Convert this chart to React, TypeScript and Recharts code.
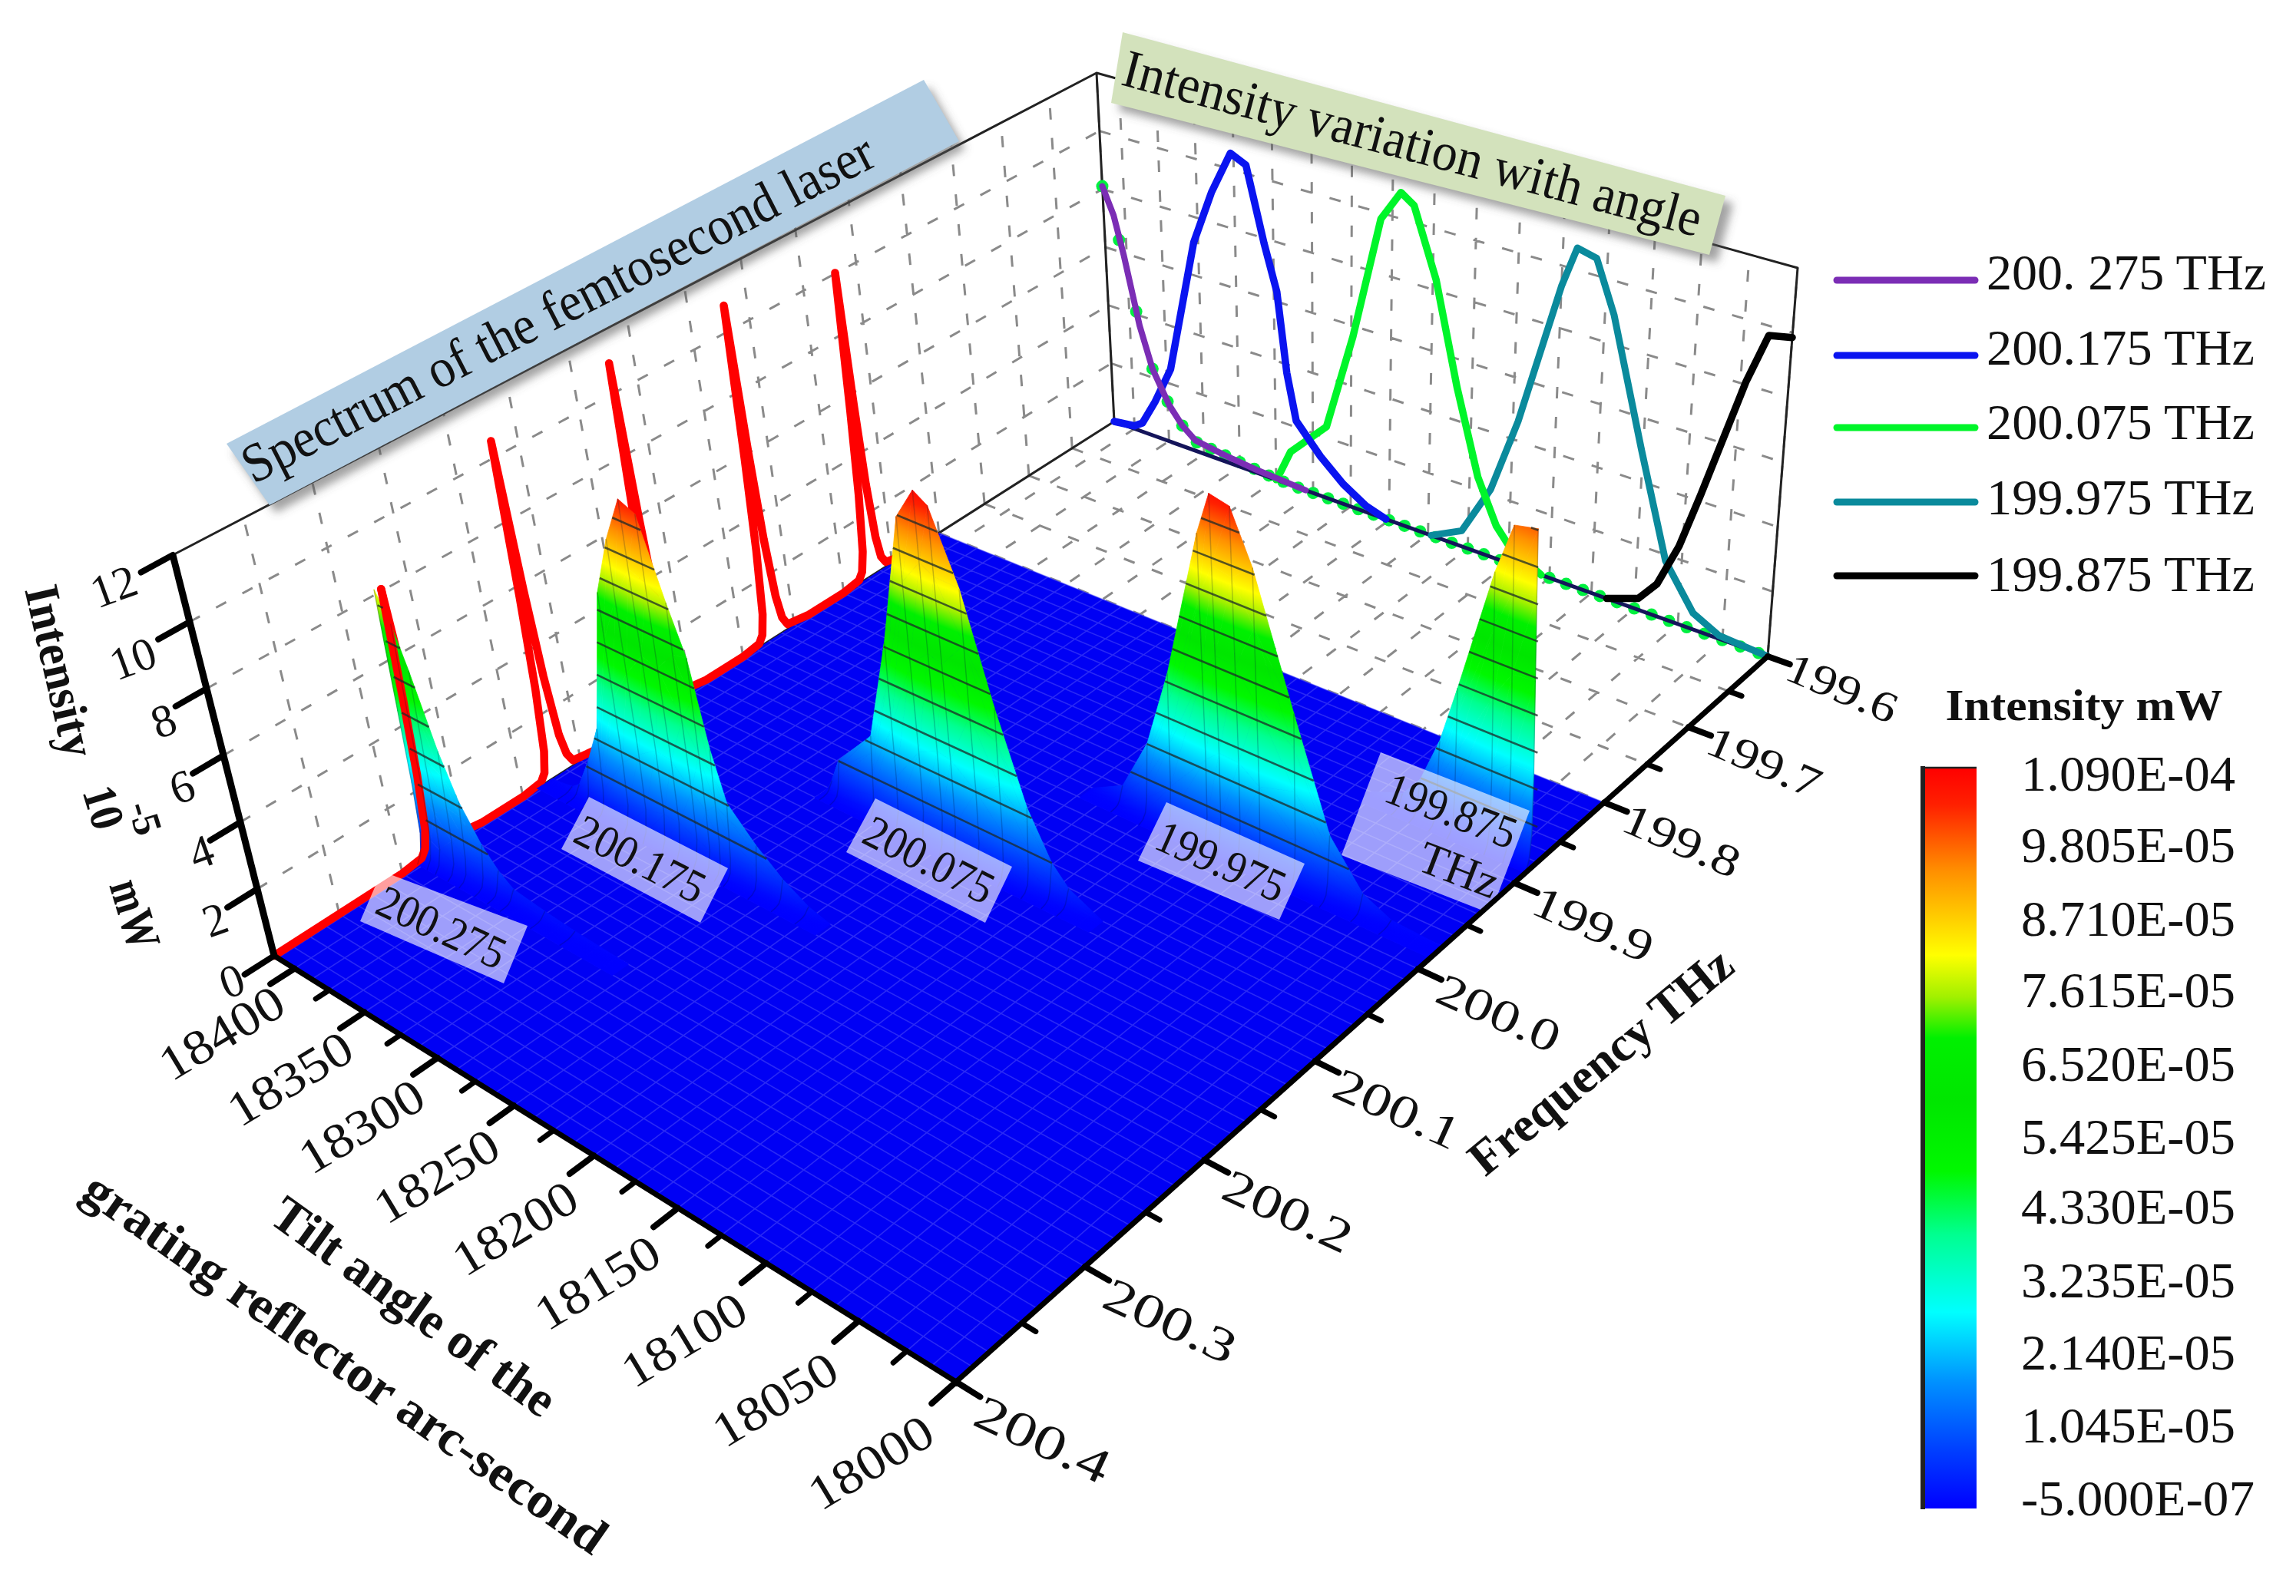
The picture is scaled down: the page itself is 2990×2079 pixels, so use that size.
import React from 'react';
import { ComposedChart, Line, Scatter, XAxis, YAxis, ReferenceArea } from 'recharts';

// ---------- values (intensity in 10^-5 mW) ----------
const ridgeFrequencies = [200.275, 200.175, 200.075, 199.975, 199.875];
const seriesNames = ['200. 275 THz', '200.175 THz', '200.075 THz', '199.975 THz', '199.875 THz'];
const seriesColors = ['#7b2db5', '#0a14f0', '#00f52a', '#0a8a9c', '#000000'];

const tiltPurple = [18415, 18408, 18402, 18393, 18385, 18374, 18365, 18356, 18335, 18315, 18280, 18000];
const zPurple = [8.1, 7.2, 5.9, 3.65, 2.3, 1.25, 0.7, 0.35, 0.2, 0.1, 0, 0];
const tiltBlue = [18415, 18400, 18394, 18384, 18372, 18353, 18340, 18327, 18317, 18306, 18298, 18292, 18286, 18270, 18255, 18240, 18227, 18000];
const zBlue = [0, 0.1, 0.3, 1.2, 2.5, 7.1, 9.0, 10.5, 10.25, 7.8, 6.3, 3.7, 2.2, 1.3, 0.65, 0.2, 0, 0];
const tiltGreen = [18415, 18300, 18297, 18290, 18266, 18249, 18232, 18220, 18212, 18198, 18184, 18170, 18158, 18149, 18130, 18000];
const zGreen = [0, 0, 0.3, 1.1, 2.35, 5.6, 9.75, 10.8, 10.5, 8.3, 5.05, 2.4, 1.05, 0.5, 0, 0];
const tiltTeal = [18415, 18198, 18179, 18162, 18147, 18125, 18117, 18106, 18095, 18076, 18059, 18042, 18027, 18000];
const zTeal = [0, 0, 0.5, 2.15, 4.6, 9.3, 10.65, 10.5, 8.9, 5.0, 1.8, 0.5, 0.1, 0];
const tiltBlack = [18415, 18091, 18073, 18063, 18052, 18042, 18022, 18012, 18000];
const zBlack = [0, 0, 0.35, 1.0, 2.4, 4.2, 8.1, 9.7, 9.85];

// the measured green markers on the back wall
const markerTilt = [18415, 18405, 18395, 18385, 18375, 18365, 18355, 18345, 18335, 18325, 18315, 18305, 18295, 18285, 18275, 18265, 18255, 18245, 18235, 18225, 18215, 18205, 18195, 18185, 18175, 18165, 18155, 18145, 18135, 18125, 18115, 18105, 18095, 18085, 18075, 18065, 18055, 18045, 18035, 18025, 18015, 18005];
const markerZ = [8.1, 6.4, 4.1, 2.3, 1.35, 0.7, 0.3, 0.25, 0.2, 0.15, 0.1, 0.05, 0.02, 0, 0, 0, 0, 0, 0, 0, 0, 0, 0, 0, 0, 0, 0, 0, 0, 0, 0, 0, 0, 0, 0, 0, 0, 0, 0, 0, 0, 0];

// spectrum at the first tilt angle (red trace)
const spectrumF = [200.4, 200.3, 200.284, 200.28, 200.277, 200.274, 200.272, 200.27,
  200.268, 200.266, 200.263, 200.26, 200.256, 200.235,
  200.2, 200.184, 200.18, 200.177, 200.174, 200.172, 200.17, 200.168, 200.166, 200.163, 200.16, 200.156, 200.135,
  200.1, 200.084, 200.08, 200.077, 200.074, 200.072, 200.07, 200.068, 200.066, 200.063, 200.06, 200.056, 200.035,
  200.0, 199.984, 199.98, 199.977, 199.974, 199.972, 199.97, 199.968, 199.966, 199.963, 199.96, 199.956, 199.935,
  199.9, 199.884, 199.88, 199.877, 199.874, 199.872, 199.87, 199.868, 199.866, 199.863, 199.86, 199.856, 199.84];
const spectrumZ = [0, 0.02, 0.1, 0.3, 0.8, 2.4, 4.6, 8.0,
  4.7, 2.6, 1.0, 0.4, 0.15, 0.03,
  0.02, 0.1, 0.3, 0.9, 2.8, 5.6, 10.4, 5.7, 3.0, 1.1, 0.45, 0.15, 0.03,
  0.02, 0.1, 0.3, 0.9, 2.9, 5.8, 10.8, 6.0, 3.1, 1.2, 0.45, 0.15, 0.03,
  0.02, 0.1, 0.3, 0.9, 2.9, 5.8, 10.7, 5.9, 3.1, 1.2, 0.45, 0.15, 0.03,
  0.02, 0.1, 0.3, 0.9, 2.7, 5.4, 9.9, 5.5, 2.9, 1.1, 0.4, 0.15, 0.02];
const FIRST_PEAK_INDEX = 7;

// cross-section of a ridge on its near side: frequency offset and share of the ridge height
const ridgeOffsets = [0, 0.0012, 0.0025, 0.004, 0.006, 0.009, 0.013];
const ridgeShare = [1, 0.8, 0.55, 0.28, 0.1, 0.03, 0];

const tiltTicks = [18400, 18350, 18300, 18250, 18200, 18150, 18100, 18050, 18000];
const tiltMinor = [18375, 18325, 18275, 18225, 18175, 18125, 18075, 18025];
const freqTicks = [200.4, 200.3, 200.2, 200.1, 200.0, 199.9, 199.8, 199.7, 199.6];
const freqMinor = [200.35, 200.25, 200.15, 200.05, 199.95, 199.85, 199.75, 199.65];
const zTicks = [0, 2, 4, 6, 8, 10, 12];
const contourLevels = [1.045, 2.14, 3.235, 4.33, 5.425, 6.52, 7.615, 8.71, 9.805];
const colorbarLabels = ['1.090E-04', '9.805E-05', '8.710E-05', '7.615E-05', '6.520E-05', '5.425E-05', '4.330E-05', '3.235E-05', '2.140E-05', '1.045E-05', '-5.000E-07'];
const colorStops: [number, string][] = [[0, '#0000ff'], [0.08, '#0040ff'], [0.17, '#0090ff'], [0.265, '#00ffff'], [0.37, '#00ff90'], [0.455, '#00f800'], [0.55, '#00e600'], [0.635, '#00f000'], [0.69, '#a0f000'], [0.747, '#ffff00'], [0.86, '#ff9000'], [0.95, '#ff2000'], [1, '#ff0000']];

// ---------- projection of (tilt, frequency, intensity) to the chart's x/y values ----------
const W = 2990, H = 2079;
const A = { x: 357, y: 1245 }, B = { x: 1245, y: 1800 }, C = { x: 2302, y: 855 }, D = { x: 1451, y: 549 };
const zvA = { x: -132, y: -522 }, zvB = { x: -70, y: -574 }, zvC = { x: 39, y: -506 }, zvD = { x: -23, y: -454 };
const sx = A.x - B.x + C.x - D.x, sy = A.y - B.y + C.y - D.y;
const d1x = B.x - C.x, d2x = D.x - C.x, d1y = B.y - C.y, d2y = D.y - C.y;
const den = d1x * d2y - d2x * d1y;
const g = (sx * d2y - d2x * sy) / den, h = (d1x * sy - sx * d1y) / den;
const a = B.x - A.x + g * B.x, b = D.x - A.x + h * D.x, d = B.y - A.y + g * B.y, e = D.y - A.y + h * D.y;
const project = (t: number, f: number, z = 0) => {
  const u = (18415 - t) / 415, v = (200.4 - f) / 0.8;
  const w = g * u + h * v + 1;
  const zx = (1 - u) * (1 - v) * zvA.x + u * (1 - v) * zvB.x + u * v * zvC.x + (1 - u) * v * zvD.x;
  const zy = (1 - u) * (1 - v) * zvA.y + u * (1 - v) * zvB.y + u * v * zvC.y + (1 - u) * v * zvD.y;
  return { x: (a * u + b * v + A.x) / w + zx * z / 12, y: (d * u + e * v + A.y) / w + zy * z / 12 };
};
type Pt = { x: number; y: number | null };
const segments = (list: { x: number; y: number }[][]) => {
  const out: Pt[] = [];
  list.forEach(s => { s.forEach(p => out.push(p)); out.push({ x: s[s.length - 1].x, y: null }); });
  return out;
};
const range = (from: number, to: number, step: number) => { const r: number[] = []; const n = Math.round((to - from) / step); for (let i = 0; i <= n; i++) r.push(from + i * step); return r; };

const profiles = [[tiltPurple, zPurple], [tiltBlue, zBlue], [tiltGreen, zGreen], [tiltTeal, zTeal], [tiltBlack, zBlack]];

// ---------- wall and floor grids ----------
const wallTilts = range(18000, 18400, 25);
const wallFreqs = range(199.6, 200.4, 0.05);
const gridLevels = [2, 4, 6, 8, 10];
const gridPts = segments([
  ...wallFreqs.map(f => [project(18415, f, 0), project(18415, f, 12)]),
  ...gridLevels.map(z => [project(18415, 200.4, z), project(18415, 199.6, z)]),
  ...wallTilts.map(t => [project(t, 199.6, 0), project(t, 199.6, 12)]),
  ...gridLevels.map(z => [project(18415, 199.6, z), project(18000, 199.6, z)]),
  ...wallTilts.map(t => [project(t, 200.4), project(t, 199.6)]),
  ...wallFreqs.map(f => [project(18415, f), project(18000, f)]),
]);
const edgePts = segments([
  [project(18415, 200.4, 12), project(18415, 199.6, 12), project(18000, 199.6, 12), project(18000, 199.6, 0)],
  [project(18415, 199.6, 12), project(18415, 199.6, 0)],
  [project(18415, 200.4, 0), project(18415, 199.6, 0)],
]);
const baseline = [project(18415, 199.6), project(18000, 199.6)];
const FLOOR_BACK = 199.8;
const floorPoly = { ...project(18415, 200.4), pts: [project(18415, 200.4), project(18000, 200.4), project(18000, FLOOR_BACK), project(18415, FLOOR_BACK)], fill: '#0000f4' };
const floorMesh = segments([
  ...range(18000, 18415, 12.5).map(t => [project(t, 200.4), project(t, FLOOR_BACK)]),
  ...range(FLOOR_BACK, 200.4, 0.0125).map(f => [project(18415, f), project(18000, f)]),
]);

// ---------- ridge surfaces ----------
type Tri = { x: number; y: number; p: { x: number; y: number }[]; z: number[]; id: string };
let triId = 0;
const ridgeTris = (idx: number): Tri[] => {
  const [ts, zs] = profiles[idx];
  const f0 = ridgeFrequencies[idx];
  const out: Tri[] = [];
  const add = (v: [number, number, number][]) => {
    const p = v.map(q => project(q[0], q[1], q[2]));
    out.push({ x: p[0].x, y: p[0].y, p, z: v.map(q => q[2]), id: 'tri' + triId++ });
  };
  for (let k = ridgeOffsets.length - 2; k >= 0; k--) {
    for (let i = 0; i < ts.length - 1; i++) {
      if (zs[i] === 0 && zs[i + 1] === 0) continue;
      const v00: [number, number, number] = [ts[i], f0 + ridgeOffsets[k], zs[i] * ridgeShare[k]];
      const v10: [number, number, number] = [ts[i + 1], f0 + ridgeOffsets[k], zs[i + 1] * ridgeShare[k]];
      const v01: [number, number, number] = [ts[i], f0 + ridgeOffsets[k + 1], zs[i] * ridgeShare[k + 1]];
      const v11: [number, number, number] = [ts[i + 1], f0 + ridgeOffsets[k + 1], zs[i + 1] * ridgeShare[k + 1]];
      add([v00, v10, v01]);
      add([v10, v11, v01]);
    }
  }
  return out;
};
const tris = ridgeFrequencies.map((_, i) => ridgeTris(i));
const ridgeMesh = segments(profiles.flatMap(([ts, zs], idx) =>
  ts.map((t, i) => ({ t, z: zs[i] })).filter(q => q.z > 0).map(q => ridgeOffsets.map((o, k) => project(q.t, ridgeFrequencies[idx] + o, q.z * ridgeShare[k])))));
const crossings = (ts: number[], zs: number[], level: number) => {
  let left: number | null = null, right: number | null = null;
  for (let i = 0; i < ts.length; i++) {
    if (zs[i] >= level) {
      if (left === null) left = i === 0 ? ts[0] : ts[i - 1] + (level - zs[i - 1]) / (zs[i] - zs[i - 1]) * (ts[i] - ts[i - 1]);
      right = i === ts.length - 1 ? ts[i] : ts[i] + (zs[i] - level) / (zs[i] - zs[i + 1]) * (ts[i + 1] - ts[i]);
    }
  }
  return left === null ? null : [left, right as number];
};
const contourPts = segments(profiles.flatMap(([ts, zs], idx) => contourLevels.flatMap(level => {
  const c = crossings(ts, zs, level);
  return c ? [[project(c[0], ridgeFrequencies[idx], level), project(c[1], ridgeFrequencies[idx], level)]] : [];
})));

const stopsMax = 10.95;
const TriShape = (props: any) => {
  const { cx, cy, payload } = props;
  const q: Tri = payload;
  const [p0, p1, p2] = q.p;
  const x1 = p1.x - p0.x, y1 = p1.y - p0.y, x2 = p2.x - p0.x, y2 = p2.y - p0.y;
  const dz1 = q.z[1] - q.z[0], dz2 = q.z[2] - q.z[0];
  const det = x1 * y2 - x2 * y1;
  const pts = `0,0 ${x1},${y1} ${x2},${y2}`;
  let fill = '#0000ff';
  let grad: any = null;
  const ga = Math.abs(det) > 1e-6 ? (dz1 * y2 - dz2 * y1) / det : 0;
  const gb = Math.abs(det) > 1e-6 ? (x1 * dz2 - x2 * dz1) / det : 0;
  const n = ga * ga + gb * gb;
  if (n > 1e-12) {
    const s0 = (0 - q.z[0]) / n, s1 = (stopsMax - q.z[0]) / n;
    fill = `url(#${q.id})`;
    grad = <linearGradient id={q.id} href="#cmap" gradientUnits="userSpaceOnUse" x1={s0 * ga} y1={s0 * gb} x2={s1 * ga} y2={s1 * gb} />;
  }
  return <g transform={`translate(${cx},${cy})`}>{grad}<polygon points={pts} fill={fill} stroke={fill} strokeWidth={0.8} strokeLinejoin="round" /></g>;
};
const PolyShape = (props: any) => {
  const { cx, cy, payload } = props;
  const pts = payload.pts.map((p: any) => `${p.x - payload.pts[0].x},${p.y - payload.pts[0].y}`).join(' ');
  return <polygon transform={`translate(${cx},${cy})`} points={pts} fill={payload.fill} fillOpacity={payload.opacity ?? 1} filter={payload.filter} />;
};
const DotShape = (props: any) => <circle cx={props.cx} cy={props.cy} r={8} fill="#00f040" />;
const TextShape = (props: any) => {
  const { cx, cy, payload: q } = props;
  return (
    <text transform={`translate(${cx},${cy}) rotate(${q.angle ?? 0})`} x={0} y={0} textAnchor={q.anchor ?? 'middle'}
      dominantBaseline={q.central ? 'central' : undefined} fontFamily="'Liberation Serif', serif" fontSize={q.size}
      fontWeight={q.bold ? 700 : 400} fill="#111" textLength={q.len} lengthAdjust="spacingAndGlyphs">{q.text}</text>
  );
};

// ---------- annotations ----------
const poly = (pts: number[][], fill: string, opacity = 1, filter?: string) => ({ x: pts[0][0], y: pts[0][1], pts: pts.map(p => ({ x: p[0], y: p[1] })), fill, opacity, filter });
const shift = (pts: number[][], dx: number, dy: number) => pts.map(p => [p[0] + dx, p[1] + dy]);
const blueBand = [[295, 578], [1203, 104], [1249, 184], [351, 658]];
const greenBand = [[1462, 42], [1447, 134], [2226, 332], [2247, 255]];
const shadows = [poly(shift(blueBand, 8, 10), '#555', 0.55, 'url(#soft)'), poly(shift(greenBand, 10, 10), '#555', 0.55, 'url(#soft)')];
const bands = [poly(blueBand, '#b1cde3'), poly(greenBand, '#d3e2bc')];
const boxes = [
  poly([[497, 1135], [687, 1206], [656, 1281], [469, 1200]], '#ffffff', 0.62),
  poly([[767, 1038], [948, 1131], [912, 1202], [731, 1106]], '#ffffff', 0.62),
  poly([[1140, 1040], [1318, 1129], [1283, 1202], [1102, 1110]], '#ffffff', 0.62),
  poly([[1519, 1045], [1699, 1125], [1666, 1198], [1482, 1121]], '#ffffff', 0.62),
  poly([[1798, 980], [1992, 1056], [1941, 1190], [1747, 1114]], '#ffffff', 0.62),
];
const T = (x: number, y: number, text: string, size: number, angle = 0, extra: any = {}) => ({ x, y, text, size, angle, central: true, ...extra });
const tiltLabels = tiltTicks.map(t => {
  const p = project(t, 200.4), k = (18400 - t) / 400;
  return T(p.x - 95 - 16 * k, p.y + 84 + 21 * k, String(t), 64, -31, { len: 178 });
});
const freqLabels = freqTicks.map((f, i) => {
  const p = project(18000, f), k = i / 8;
  return T(p.x + 113 - 16 * k, p.y + 75 - 34 * k, f.toFixed(1), 64 - 8 * k, 25 - 2 * k, { len: 187 - 35 * k });
});
const zLabelPos = [[302, 1278], [280, 1198], [262, 1110], [237, 1025], [213, 939], [173, 858], [148, 764]];
const zLabels = zTicks.map((z, i) => T(zLabelPos[i][0], zLabelPos[i][1], String(z), 60, -20));
const texts = [
  ...tiltLabels, ...freqLabels, ...zLabels,
  T(330, 631, 'Spectrum of the femtosecond laser', 72, -27.1, { anchor: 'start', central: false, len: 915 }),
  T(1458, 110, 'Intensity variation with angle', 70, 14.8, { anchor: 'start', central: false, len: 777 }),
  T(575, 1208, '200.275', 60, 25, { len: 178 }),
  T(834, 1119, '200.175', 60, 27, { len: 182 }),
  T(1210, 1120, '200.075', 60, 27, { len: 182 }),
  T(1590, 1122, '199.975', 60, 24, { len: 178 }),
  T(1890, 1056, '199.875', 60, 21, { len: 178 }),
  T(1900, 1133, 'THz', 60, 21),
  T(1934, 1534, 'Frequency THz', 64, -39.5, { anchor: 'start', central: false, bold: true, len: 425 }),
  T(348, 1591, 'Tilt angle of the', 66, 35.8, { anchor: 'start', central: false, bold: true, len: 440 }),
  T(103, 1559, 'grating reflector arc-second', 66, 35, { anchor: 'start', central: false, bold: true, len: 816 }),
  T(32, 768, 'Intensity', 64, 77, { anchor: 'start', central: false, bold: true, len: 228 }),
  T(107, 1031, '10', 62, 73, { anchor: 'start', central: false, bold: true, len: 56 }),
  T(166, 1050, '-5', 52, 73, { anchor: 'start', central: false, bold: true }),
  T(142, 1153, 'mW', 64, 73, { anchor: 'start', central: false, bold: true, len: 92 }),
  ...seriesNames.map((s, i) => T(2587, [354, 452, 549, 647, 747][i], s, 66, 0, { anchor: 'start', len: i === 0 ? 364 : 349 })),
  T(2714, 918, 'Intensity mW', 58, 0, { bold: true, len: 361 }),
  ...colorbarLabels.map((s, i) => T(2632, [1007, 1100, 1196, 1289, 1385, 1480, 1571, 1667, 1761, 1856, 1951][i], s, 66, 0, { anchor: 'start', len: i === 10 ? 304 : 279 })),
];

// ---------- axes ----------
const zAxisLine = [project(18415, 200.4, 0), project(18415, 200.4, 12)];
const tiltAxisLine = [project(18415, 200.4), project(18000, 200.4)];
const freqAxisLine = [project(18000, 200.4), project(18000, 199.6)];
const majorTicks = segments([
  ...zTicks.map(z => [project(18415, 200.4, z), project(18415, 200.422, z)]),
  ...tiltTicks.map(t => [project(t, 200.4), project(t, 200.418)]),
  ...freqTicks.map(f => [project(18000, f), project(17988, f)]),
]);
const minorTicks = segments([
  ...tiltMinor.map(t => [project(t, 200.4), project(t, 200.41)]),
  ...freqMinor.map(f => [project(18000, f), project(17993, f)]),
]);
const wallCurve = (i: number) => profiles[i][0].map((t, j) => project(t, 199.6, profiles[i][1][j]));
const spectrum = spectrumF.map((f, i) => project(18415, f, spectrumZ[i]));
const markers = markerTilt.map((t, i) => project(t, 199.6, markerZ[i]));
const legendYs = [365, 463, 557, 654, 750];

export default function App() {
  let zi = 1000;
  const nz = () => (zi += 10);
  const L = (data: any[], stroke: string, width: number, extra: any = {}) => (
    <Line key={'l' + zi} zIndex={nz()} data={data} dataKey="y" type="linear" stroke={stroke} strokeWidth={width} dot={false} activeDot={false}
      isAnimationActive={false} connectNulls={false} legendType="none" strokeLinecap="round" strokeLinejoin="round" {...extra} />
  );
  const S = (data: any[], shape: any) => (
    <Scatter key={'s' + zi} zIndex={nz()} data={data} dataKey="y" shape={shape} isAnimationActive={false} legendType="none" />
  );
  return (
    <div style={{ position: 'absolute', left: 0, top: 0, width: W, height: H, background: '#fff' }}>
      <ComposedChart width={W} height={H} margin={{ top: 0, right: 0, bottom: 0, left: 0 }}>
        <defs>
          <linearGradient id="cmap">{colorStops.map(([o, c]) => <stop key={o} offset={o} stopColor={c} />)}</linearGradient>
          <linearGradient id="cbar" x1="0" y1="1" x2="0" y2="0">{colorStops.map(([o, c]) => <stop key={o} offset={o} stopColor={c} />)}</linearGradient>
          <filter id="soft" x="-10%" y="-30%" width="120%" height="160%"><feGaussianBlur stdDeviation="6" /></filter>
        </defs>
        <XAxis type="number" dataKey="x" domain={[0, W]} hide allowDataOverflow />
        <YAxis type="number" dataKey="y" domain={[0, H]} reversed hide allowDataOverflow />
        {L(gridPts, '#8a8a8a', 3, { strokeDasharray: '15 24', strokeLinecap: 'butt' })}
        {L(edgePts, '#222222', 3)}
        {S(markers, DotShape)}
        {L(baseline, '#14145a', 5)}
        {L(wallCurve(3).slice(1), seriesColors[3], 9)}
        {L(wallCurve(2).slice(1, 15), seriesColors[2], 9.5)}
        {L(wallCurve(1).slice(0, 17), seriesColors[1], 9.5)}
        {L(wallCurve(4).slice(1), seriesColors[4], 9.5)}
        {L(wallCurve(0).slice(0, 11), seriesColors[0], 8)}
        {S([floorPoly], PolyShape)}
        {L(floorMesh, '#5c5cf6', 1.6, { strokeOpacity: 0.45, strokeLinecap: 'butt' })}
        {L(spectrum.slice(FIRST_PEAK_INDEX), '#ff0000', 10.5)}
        {S(tris[0], TriShape)}
        {L(spectrum.slice(0, FIRST_PEAK_INDEX + 1), '#ff0000', 10.5)}
        {S(tris[1], TriShape)}
        {S(tris[2], TriShape)}
        {S(tris[3], TriShape)}
        {S(tris[4], TriShape)}
        {L(ridgeMesh, '#001030', 1.5, { strokeOpacity: 0.22, strokeLinecap: 'butt' })}
        {L(contourPts, '#1c2a28', 2.6, { strokeOpacity: 0.75, strokeLinecap: 'butt' })}
        {S(boxes, PolyShape)}
        {S(shadows, PolyShape)}
        {S(bands, PolyShape)}
        {L(zAxisLine, '#000000', 9, { strokeLinecap: 'butt' })}
        {L(tiltAxisLine, '#000000', 7)}
        {L(freqAxisLine, '#000000', 7)}
        {L(majorTicks, '#000000', 8)}
        {L(minorTicks, '#000000', 7)}
        {seriesColors.map((c, i) => L([{ x: 2392, y: legendYs[i] }, { x: 2572, y: legendYs[i] }], c, 9))}
        <ReferenceArea x1={2505} x2={2574} y1={1000} y2={1965} fill="url(#cbar)" fillOpacity={1} stroke="none" ifOverflow="visible" zIndex={nz()} />
        {L([{ x: 2504, y: 998 }, { x: 2504, y: 1966 }], '#222222', 6, { strokeLinecap: 'butt' })}
        {L([{ x: 2502, y: 1000 }, { x: 2574, y: 1000 }], '#222222', 2.5, { strokeLinecap: 'butt' })}
        {S(texts, TextShape)}
      </ComposedChart>
    </div>
  );
}
